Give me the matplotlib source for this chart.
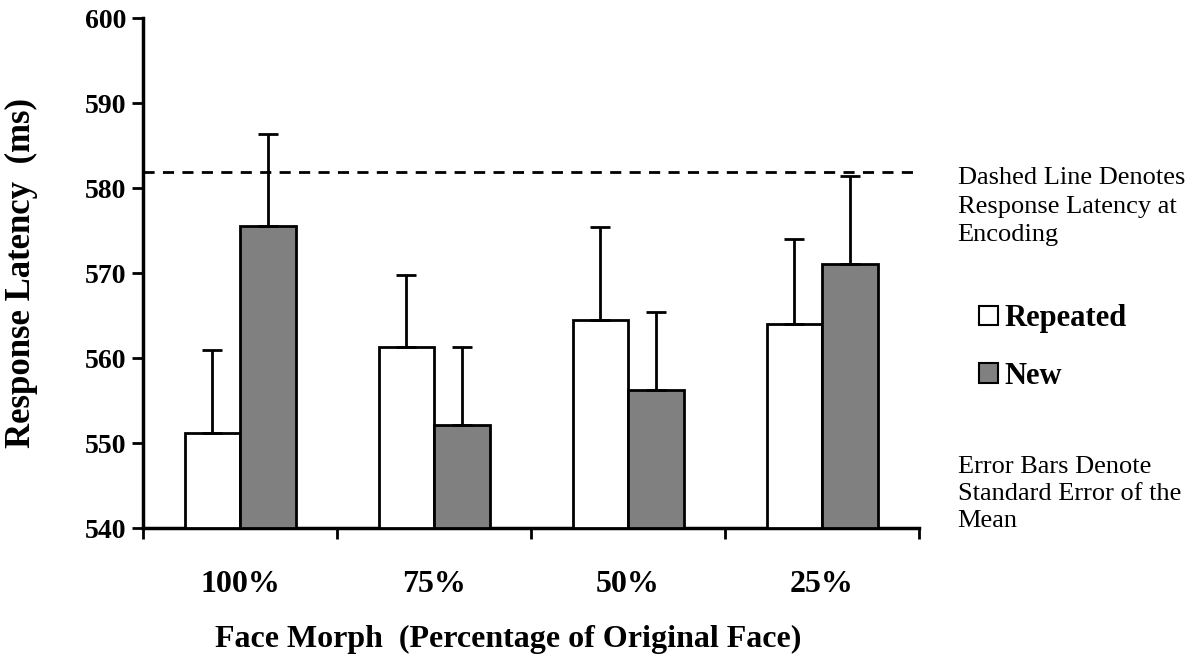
import matplotlib
matplotlib.use("Agg")
import matplotlib.pyplot as plt
from matplotlib.patches import Patch
import numpy as np

plt.rcParams["font.family"] = ["Liberation Serif", "DejaVu Serif"]

categories = ["100%", "75%", "50%", "25%"]
repeated = [551.2, 561.3, 564.5, 564.0]
repeated_se = [9.7, 8.5, 10.9, 10.0]
new = [575.5, 552.1, 556.2, 571.1]
new_se = [10.9, 9.2, 9.2, 10.3]
encoding_latency = 581.9

fig = plt.figure(figsize=(11.88, 6.62), dpi=100)
ax = fig.add_axes([0.1204, 0.2024, 0.6532, 0.7704])

x = np.arange(len(categories))
w = 0.286
base = 540
ax.bar(x - w / 2, np.array(repeated) - base, w, bottom=base, color="white",
       edgecolor="black", linewidth=2, zorder=3)
ax.bar(x + w / 2, np.array(new) - base, w, bottom=base, color="#808080",
       edgecolor="black", linewidth=2, zorder=3)
ax.errorbar(x - w / 2, repeated, yerr=[np.zeros(4), repeated_se], fmt="none",
            ecolor="black", elinewidth=2, capsize=7, capthick=2, zorder=4)
ax.errorbar(x + w / 2, new, yerr=[np.zeros(4), new_se], fmt="none",
            ecolor="black", elinewidth=2, capsize=7, capthick=2, zorder=4)

ax.axhline(encoding_latency, color="black", linestyle=(0, (4, 3)), linewidth=2, zorder=2)

ax.set_xlim(-0.5, 3.5)
ax.set_ylim(540, 600)
ax.set_yticks(np.arange(540, 601, 10))
ax.set_xticks(x)
ax.set_xticklabels(categories, fontsize=23, fontweight="bold")
ax.set_xticks(np.arange(-0.5, 4, 1), minor=True)
ax.tick_params(axis="x", which="major", length=0, pad=30)
ax.tick_params(axis="x", which="minor", length=8, width=2, direction="out")
ax.tick_params(axis="y", length=8, width=2, direction="out", labelsize=20, pad=4)
for lab in ax.get_yticklabels():
    lab.set_fontweight("bold")

for s in ["top", "right"]:
    ax.spines[s].set_visible(False)
for s in ["left", "bottom"]:
    ax.spines[s].set_linewidth(2.5)

ax.set_ylabel("Response Latency  (ms)", fontsize=25, fontweight="bold")
ax.yaxis.set_label_coords(-0.135, 0.5)
ax.set_xlabel("Face Morph  (Percentage of Original Face)", fontsize=23,
              fontweight="bold")
ax.xaxis.set_label_coords(0.47, -0.19)

fig.text(0.806, 0.748, "Dashed Line Denotes\nResponse Latency at\nEncoding",
         fontsize=19, va="top", ha="left", linespacing=1.4)
fig.text(0.806, 0.311, "Error Bars Denote\nStandard Error of the\nMean",
         fontsize=19, va="top", ha="left", linespacing=1.3)

handles = [Patch(facecolor="white", edgecolor="black", linewidth=1.5),
           Patch(facecolor="#808080", edgecolor="black", linewidth=1.5)]
fig.legend(handles, ["Repeated", "New"], loc="center left",
           bbox_to_anchor=(0.806, 0.475), frameon=False,
           prop={"weight": "bold", "size": 22}, handlelength=0.62,
           handleheight=0.62, handletextpad=0.2, labelspacing=0.93,
           borderpad=0.2)

plt.savefig("out.png", dpi=100)
